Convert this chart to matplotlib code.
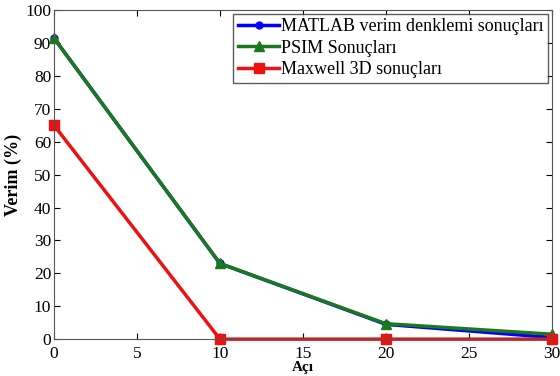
import matplotlib
matplotlib.use("Agg")
import matplotlib.pyplot as plt

plt.rcParams['font.family'] = ['Liberation Serif', 'DejaVu Serif']

###Data
aci = [0, 10, 20, 30]
matlab = [91.5, 23.0, 4.5, 0.5]
psim = [91.5, 23.0, 4.7, 1.5]
maxwell = [65.0, 0.0, 0.0, 0.0]

fig = plt.figure(figsize=(5.6, 3.76), dpi=100)
ax = fig.add_axes([0.0964, 0.098, 0.889, 0.875])

ax.plot(aci, matlab, color='#0000ff', marker='o', lw=2.5, ms=5, clip_on=False, label='MATLAB verim denklemi sonuçları')
ax.plot(aci, psim, color='#1a7a1a', marker='^', lw=2.5, ms=6.5, clip_on=False, label='PSIM Sonuçları')
ax.plot(aci, maxwell, color='#ee1111', marker='s', lw=2.5, ms=6.5, clip_on=False, label='Maxwell 3D sonuçları')

ax.set_xlim(0, 30)
ax.set_ylim(0, 100)
ax.set_xticks(range(0, 31, 5))
ax.set_yticks(range(0, 101, 10))
ax.tick_params(direction='in', top=True, right=True, labelsize=12.5, length=4)
ax.tick_params(axis='x', pad=5)
ax.tick_params(axis='y', pad=2)
for s in ax.spines.values():
    s.set_color('#555555')

ax.set_xlabel('Açı', fontsize=11, fontweight='bold', labelpad=-1)
ax.set_ylabel('Verim (%)', fontsize=13, fontweight='bold', labelpad=2)

leg = ax.legend(loc='upper right', fontsize=13, frameon=True, fancybox=False,
                handlelength=2.3, handletextpad=0.1, borderpad=0.25, labelspacing=0.25,
                borderaxespad=0.2)
leg.get_frame().set_edgecolor('#333333')
leg.get_frame().set_linewidth(1.0)

plt.savefig('out.png', dpi=100)
